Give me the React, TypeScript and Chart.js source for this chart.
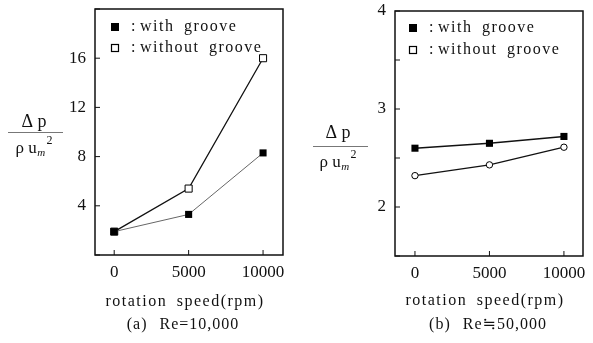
import React, { useEffect, useRef } from "react";
import { Chart, registerables } from "chart.js";
Chart.register(...registerables);

// ---- data ----
const speeds = [0, 5000, 10000];
const xTickValues = [0, 5000, 10000];
const withGrooveA = [1.9, 3.3, 8.3];
const withoutGrooveA = [1.9, 5.4, 16.0];
const withGrooveB = [2.6, 2.65, 2.72];
const withoutGrooveB = [2.32, 2.43, 2.61];
const yLabelsA = [4, 8, 12, 16];
const yLabelsB = [2, 3, 4];
const legendLabels = ["with groove", "without groove"];
const captions = ["(a) Re=10,000", "(b) Re≒50,000"];
const xTitle = "rotation speed(rpm)";

const SERIF = '"Liberation Serif", "DejaVu Serif", serif';

type Panel = {
  left: number;
  width: number;
  area: { l: number; r: number; t: number; b: number };
  xMin: number;
  xMax: number;
  yMin: number;
  yMax: number;
  yStep: number;
  yLabels: number[];
  filled: number[];
  open: number[];
  openStyle: string;
  openRadius: number;
  filledLineColor: string;
  filledLineWidth: number;
  legend: { x: number; y1: number; y2: number };
  frac: { cx: number; top: number; line: number; bottom: number; l: number; r: number };
  xTitleY: number;
  caption: string;
  captionX: number;
  captionY: number;
  H: number;
};

const H = 343;

const panels: Panel[] = [
  {
    left: 0,
    width: 297,
    area: { l: 95, r: 283, t: 9, b: 255 },
    xMin: -1290,
    xMax: 11340,
    yMin: 0,
    yMax: 20,
    yStep: 4,
    yLabels: yLabelsA,
    filled: withGrooveA,
    open: withoutGrooveA,
    openStyle: "rect",
    openRadius: 5,
    filledLineColor: "#666",
    filledLineWidth: 1,
    legend: { x: 115, y1: 27, y2: 48 },
    frac: { cx: 34, top: 122, line: 132, bottom: 149, l: 8, r: 63 },
    xTitleY: 302,
    caption: captions[0],
    captionX: 183,
    captionY: 325,
    H,
  },
  {
    left: 297,
    width: 296,
    area: { l: 98, r: 286, t: 11, b: 256 },
    xMin: -1340,
    xMax: 11280,
    yMin: 1.5,
    yMax: 4,
    yStep: 0.5,
    yLabels: yLabelsB,
    filled: withGrooveB,
    open: withoutGrooveB,
    openStyle: "circle",
    openRadius: 3.2,
    filledLineColor: "#111",
    filledLineWidth: 1.4,
    legend: { x: 116, y1: 28, y2: 50 },
    frac: { cx: 41, top: 133, line: 146, bottom: 163, l: 16, r: 71 },
    xTitleY: 301,
    caption: captions[1],
    captionX: 191,
    captionY: 325,
    H,
  },
];

function setSpacing(ctx: any, letter: string, word: string) {
  try {
    ctx.letterSpacing = letter;
    ctx.wordSpacing = word;
  } catch (e) {}
}

function makeDecor(p: Panel) {
  return {
    id: "decor",
    afterDraw(chart: any) {
      const ctx = chart.ctx as CanvasRenderingContext2D;
      const xs = chart.scales.x;
      const ys = chart.scales.y;
      const L = xs.left;
      const R = xs.right;
      const T = ys.top;
      const B = ys.bottom;
      ctx.save();
      // box
      ctx.strokeStyle = "#111";
      ctx.lineWidth = 1.5;
      ctx.beginPath();
      ctx.moveTo(L, T);
      ctx.lineTo(R, T);
      ctx.lineTo(R, B);
      ctx.lineTo(L, B);
      ctx.closePath();
      ctx.stroke();
      // inward ticks
      ctx.lineWidth = 1;
      ctx.beginPath();
      ys.ticks.forEach((t: any) => {
        const y = ys.getPixelForValue(t.value);
        ctx.moveTo(L, y);
        ctx.lineTo(L + 5, y);
      });
      xs.ticks.forEach((t: any) => {
        const x = xs.getPixelForValue(t.value);
        ctx.moveTo(x, B);
        ctx.lineTo(x, B - 5);
      });
      ctx.stroke();

      // legend
      const lg = p.legend;
      ctx.fillStyle = "#000";
      ctx.fillRect(lg.x - 4, lg.y1 - 4, 8, 8);
      ctx.fillStyle = "#fff";
      ctx.fillRect(lg.x - 4, lg.y2 - 4, 8, 8);
      ctx.strokeStyle = "#000";
      ctx.lineWidth = 1.2;
      ctx.strokeRect(lg.x - 3.5, lg.y2 - 3.5, 7, 7);
      ctx.fillStyle = "#111";
      ctx.font = `16px ${SERIF}`;
      ctx.textBaseline = "middle";
      ctx.textAlign = "left";
      setSpacing(ctx, "0px", "0px");
      ctx.fillText(":", lg.x + 16, lg.y1);
      ctx.fillText(":", lg.x + 16, lg.y2);
      setSpacing(ctx, "1.5px", "4px");
      ctx.fillText(legendLabels[0], lg.x + 25, lg.y1);
      ctx.fillText(legendLabels[1], lg.x + 25, lg.y2);

      // y title fraction
      const f = p.frac;
      setSpacing(ctx, "0px", "0px");
      ctx.textAlign = "center";
      ctx.font = `18px ${SERIF}`;
      ctx.fillText("Δ p", f.cx, f.top);
      ctx.strokeStyle = "#777";
      ctx.lineWidth = 1;
      ctx.beginPath();
      ctx.moveTo(f.l, f.line + 0.5);
      ctx.lineTo(f.r, f.line + 0.5);
      ctx.stroke();
      ctx.textAlign = "left";
      ctx.font = `17px ${SERIF}`;
      const base = "ρ u";
      const wBase = ctx.measureText(base).width;
      ctx.font = `italic 11px ${SERIF}`;
      const wSub = ctx.measureText("m").width;
      ctx.font = `12px ${SERIF}`;
      const wSup = ctx.measureText("2").width;
      const total = wBase + wSub + wSup + 2;
      const x0 = f.cx - total / 2;
      ctx.font = `17px ${SERIF}`;
      ctx.fillText(base, x0, f.bottom);
      ctx.font = `italic 11px ${SERIF}`;
      ctx.fillText("m", x0 + wBase + 0.5, f.bottom + 4);
      ctx.font = `12px ${SERIF}`;
      ctx.fillText("2", x0 + wBase + wSub + 2, f.bottom - 8);

      // x title
      const cx = (L + R) / 2 - 4;
      ctx.textAlign = "center";
      ctx.font = `16px ${SERIF}`;
      setSpacing(ctx, "1.5px", "4px");
      ctx.fillText(xTitle, cx, p.xTitleY);
      // caption
      setSpacing(ctx, "1px", "7px");
      ctx.fillText(p.caption, p.captionX, p.captionY);
      ctx.restore();
    },
  };
}

function PanelChart({ p }: { p: Panel }) {
  const ref = useRef<HTMLCanvasElement | null>(null);
  useEffect(() => {
    if (!ref.current) return;
    const chart = new Chart(ref.current, {
      type: "line",
      data: {
        datasets: [
          {
            label: legendLabels[0],
            data: speeds.map((s, i) => ({ x: s, y: p.filled[i] })),
            borderColor: p.filledLineColor,
            borderWidth: p.filledLineWidth,
            pointStyle: "rect",
            pointRadius: 5,
            pointBackgroundColor: "#000",
            pointBorderColor: "#000",
            pointBorderWidth: 0,
            tension: 0,
          },
          {
            label: legendLabels[1],
            data: speeds.map((s, i) => ({ x: s, y: p.open[i] })),
            borderColor: "#111",
            borderWidth: 1.3,
            pointStyle: p.openStyle as any,
            pointRadius: p.openRadius,
            pointBackgroundColor: "#fff",
            pointBorderColor: "#000",
            pointBorderWidth: 1,
            tension: 0,
          },
        ],
      },
      options: {
        animation: false,
        responsive: false,
        maintainAspectRatio: false,
        events: [],
        layout: {
          padding: { left: 0, top: p.area.t, right: p.width - p.area.r, bottom: 0 },
        },
        plugins: { legend: { display: false }, title: { display: false }, tooltip: { enabled: false } },
        scales: {
          x: {
            type: "linear",
            min: p.xMin,
            max: p.xMax,
            grid: { display: false, drawTicks: false },
            border: { display: false },
            afterBuildTicks: (s: any) => {
              s.ticks = xTickValues.map((v) => ({ value: v }));
            },
            afterFit: (s: any) => {
              s.height = p.H - p.area.b;
              s.paddingLeft = 0;
              s.paddingRight = 0;
            },
            ticks: {
              padding: 7,
              color: "#111",
              font: { family: SERIF, size: 17 },
              maxRotation: 0,
              autoSkip: false,
              callback: (v: any) => String(v),
            },
          },
          y: {
            type: "linear",
            min: p.yMin,
            max: p.yMax,
            grid: { display: false, drawTicks: false },
            border: { display: false },
            afterFit: (s: any) => {
              s.width = p.area.l;
              s.paddingTop = 0;
              s.paddingBottom = 0;
            },
            ticks: {
              stepSize: p.yStep,
              padding: 9,
              color: "#111",
              font: { family: SERIF, size: 17 },
              autoSkip: false,
              callback: (v: any) =>
                p.yLabels.some((l) => Math.abs(l - Number(v)) < 1e-6) ? String(v) : "",
            },
          },
        },
      },
      plugins: [makeDecor(p)],
    });
    return () => chart.destroy();
  }, [p]);
  return (
    <canvas
      ref={ref}
      width={p.width}
      height={p.H}
      style={{ position: "absolute", left: p.left, top: 0, width: p.width, height: p.H }}
    />
  );
}

export default function App() {
  return (
    <div style={{ position: "fixed", left: 0, top: 0, width: 593, height: 343, background: "#fff" }}>
      {panels.map((p, i) => (
        <PanelChart key={i} p={p} />
      ))}
    </div>
  );
}
